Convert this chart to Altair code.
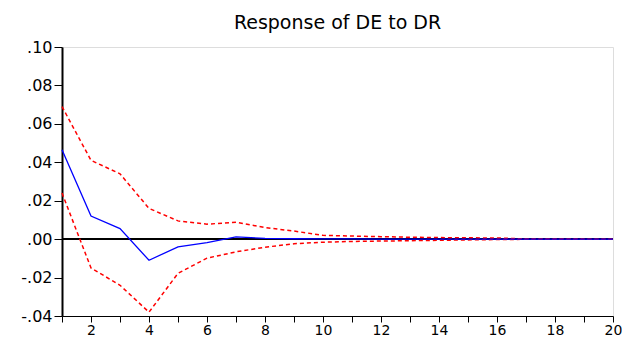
import altair as alt
import pandas as pd

periods = list(range(1, 21))
response = [0.0465, 0.012, 0.0055, -0.011, -0.004, -0.0018, 0.0012, 0.0004, 0.0002, 0.0001,
            0.0001, 0.0, 0.0, 0.0, 0.0, 0.0, 0.0, 0.0, 0.0, 0.0]
upper = [0.069, 0.041, 0.034, 0.016, 0.0095, 0.0078, 0.0088, 0.006, 0.0042, 0.002,
         0.0016, 0.0013, 0.001, 0.0008, 0.0007, 0.0006, 0.0001, 0.0001, 0.0, 0.0]
lower = [0.024, -0.015, -0.024, -0.038, -0.0178, -0.0099, -0.0066, -0.0042, -0.0024, -0.0016,
         -0.0012, -0.001, -0.0008, -0.0006, -0.0004, -0.0002, -0.0001, -0.0001, 0.0, 0.0]

df = pd.DataFrame({"period": periods, "response": response, "upper": upper, "lower": lower})

FONT = "DejaVu Sans"

x = alt.X("period:Q",
          scale=alt.Scale(domain=[1, 20], nice=False, zero=False),
          axis=alt.Axis(values=periods, title=None, grid=False,
                        labelExpr="datum.value % 2 == 0 ? datum.value : ''",
                        tickSize=6, labelPadding=1, labelFontSize=14, labelFont=FONT,
                        labelColor="black", tickColor="black", domainColor="black",
                        labelFlush=False))
yaxis = alt.Axis(values=[-0.04, -0.02, 0.0, 0.02, 0.04, 0.06, 0.08, 0.10], title=None, grid=False,
                 labelExpr="datum.value < 0 ? '-' + substring(format(-datum.value, '.2f'), 1) : substring(format(datum.value, '.2f'), 1)",
                 tickSize=8, labelPadding=2, labelFontSize=16, labelFont=FONT,
                 labelColor="black", tickColor="black", domainColor="black", domainWidth=2)
yscale = alt.Scale(domain=[-0.04, 0.10], nice=False)

base = alt.Chart(df)

zero = base.mark_rule(color="black", strokeWidth=1).encode(
    y=alt.datum(0, scale=yscale, axis=yaxis))

up = base.mark_line(color="#ff0000", strokeDash=[4, 3], strokeWidth=1.5).encode(
    x=x, y=alt.Y("upper:Q", scale=yscale, axis=yaxis))
lo = base.mark_line(color="#ff0000", strokeDash=[4, 3], strokeWidth=1.5).encode(
    x=x, y=alt.Y("lower:Q", scale=yscale, axis=yaxis))
resp = base.mark_line(color="#0000ff", strokeWidth=1.3).encode(
    x=x, y=alt.Y("response:Q", scale=yscale, axis=yaxis))

chart = alt.layer(zero, up, lo, resp).properties(
    width=551, height=269,
    title=alt.TitleParams("Response of DE to DR", font=FONT, fontSize=19, fontWeight="normal",
                          color="black", offset=6, anchor="middle"),
    autosize=alt.AutoSizeParams(type="none"),
    padding={"left": 54, "top": 39, "right": 9, "bottom": 23},
).configure_view(stroke="black", strokeWidth=1).configure(background="white")

chart.save("out.html", embed_options={"renderer": "svg", "actions": False})
